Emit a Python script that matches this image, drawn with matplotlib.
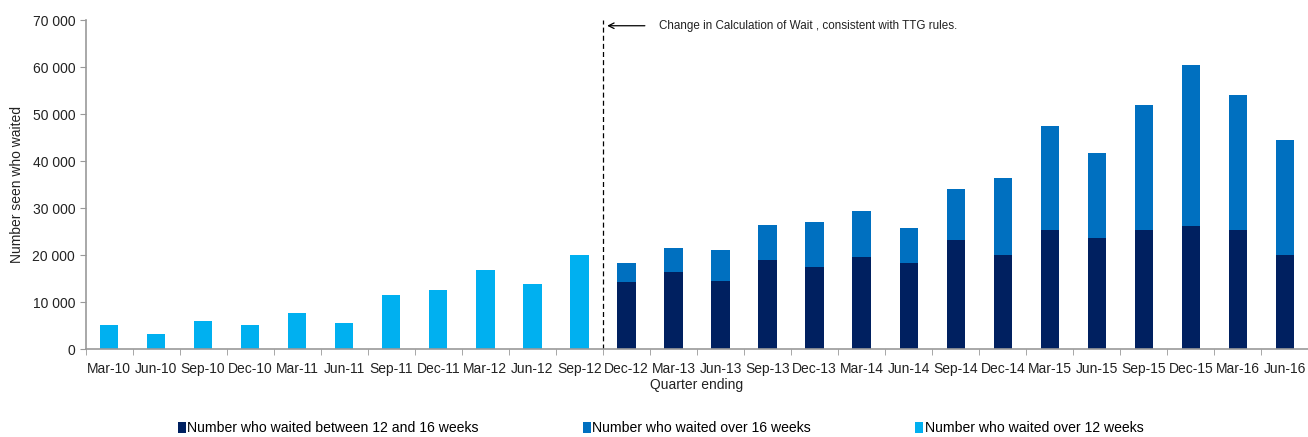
import numpy as np
import matplotlib
matplotlib.use('Agg')
import matplotlib.pyplot as plt
from matplotlib.ticker import FuncFormatter, FixedLocator

plt.rcParams['font.family'] = ['Liberation Sans', 'DejaVu Sans']

quarters = ['Mar-10', 'Jun-10', 'Sep-10', 'Dec-10', 'Mar-11', 'Jun-11', 'Sep-11',
            'Dec-11', 'Mar-12', 'Jun-12', 'Sep-12', 'Dec-12', 'Mar-13', 'Jun-13',
            'Sep-13', 'Dec-13', 'Mar-14', 'Jun-14', 'Sep-14', 'Dec-14', 'Mar-15',
            'Jun-15', 'Sep-15', 'Dec-15', 'Mar-16', 'Jun-16']

# old method: total over 12 weeks (Mar-10 .. Sep-12)
over_12 = [5100, 3300, 6000, 5100, 7600, 5500, 11450, 12600, 16900, 13950, 20100]
# new method (Dec-12 .. Jun-16)
between_12_16 = [14350, 16500, 14550, 19000, 17400, 19700, 18400, 23150, 20100,
                 25350, 23750, 25350, 26300, 25350, 20100]
total_new = [18250, 21450, 21050, 26450, 26950, 29400, 25750, 34000, 36450,
             47400, 41700, 51950, 60400, 54000, 44500]
over_16 = [t - b for t, b in zip(total_new, between_12_16)]

c_dark = '#002060'
c_mid = '#0070C0'
c_light = '#00B0F0'

fig = plt.figure(figsize=(13.08, 4.37), dpi=100)
ax = fig.add_axes([0.0654, 0.201, 0.935, 0.753])

x = np.arange(len(quarters))
x_old = x[:len(over_12)]
x_new = x[len(over_12):]
w = 0.39

b1 = ax.bar(x_new, between_12_16, w, color=c_dark,
            label='Number who waited between 12 and 16 weeks')
b2 = ax.bar(x_new, over_16, w, bottom=between_12_16, color=c_mid,
            label='Number who waited over 16 weeks')
b3 = ax.bar(x_old, over_12, w, color=c_light,
            label='Number who waited over 12 weeks')

ax.set_xlim(-0.5, len(quarters) - 0.5)
ax.set_ylim(0, 70000)
ax.yaxis.set_major_locator(FixedLocator(np.arange(0, 70001, 10000)))
ax.yaxis.set_major_formatter(FuncFormatter(lambda v, p: '{:,}'.format(int(v)).replace(',', ' ')))

ax.set_xticks(x)
ax.set_xticklabels(quarters)
ax.set_xticks(np.arange(-0.5, len(quarters), 1), minor=True)
ax.tick_params(axis='x', which='major', length=0, labelsize=10, pad=9, colors='#222222')
ax.tick_params(axis='x', which='minor', length=4, color='#999999', direction='out')
ax.tick_params(axis='y', length=4, color='#999999', labelsize=10, colors='#222222')
for lab in ax.get_yticklabels():
    lab.set_color('#222222')

for s in ['top', 'right']:
    ax.spines[s].set_visible(False)
for s in ['left', 'bottom']:
    ax.spines[s].set_color('#999999')
    ax.spines[s].set_linewidth(1.2)

ax.set_ylabel('Number seen who waited', fontsize=10, color='#222222', labelpad=6)
ax.set_xlabel('Quarter ending', fontsize=10, color='#222222', labelpad=2)

# change of method marker
split = len(over_12) - 0.5
ax.axvline(split, color='black', linestyle=(0, (4, 2.5)), linewidth=0.9)
ax.annotate('', xy=(split + 0.03, 68800), xytext=(split + 0.95, 68800),
            arrowprops=dict(arrowstyle='->', color='black', lw=0.9))
ax.text(split + 1.2, 68800, 'Change in Calculation of Wait , consistent with TTG rules.',
        fontsize=8.4, va='center', ha='left', color='#222222')

leg = fig.legend(handles=[b1, b2, b3], loc='lower center', bbox_to_anchor=(0.505, -0.025),
                 ncol=3, frameon=False, fontsize=10.1, handlelength=0.6, handleheight=0.8,
                 handletextpad=0.1, columnspacing=7.4)

fig.savefig('out.png', dpi=100)
